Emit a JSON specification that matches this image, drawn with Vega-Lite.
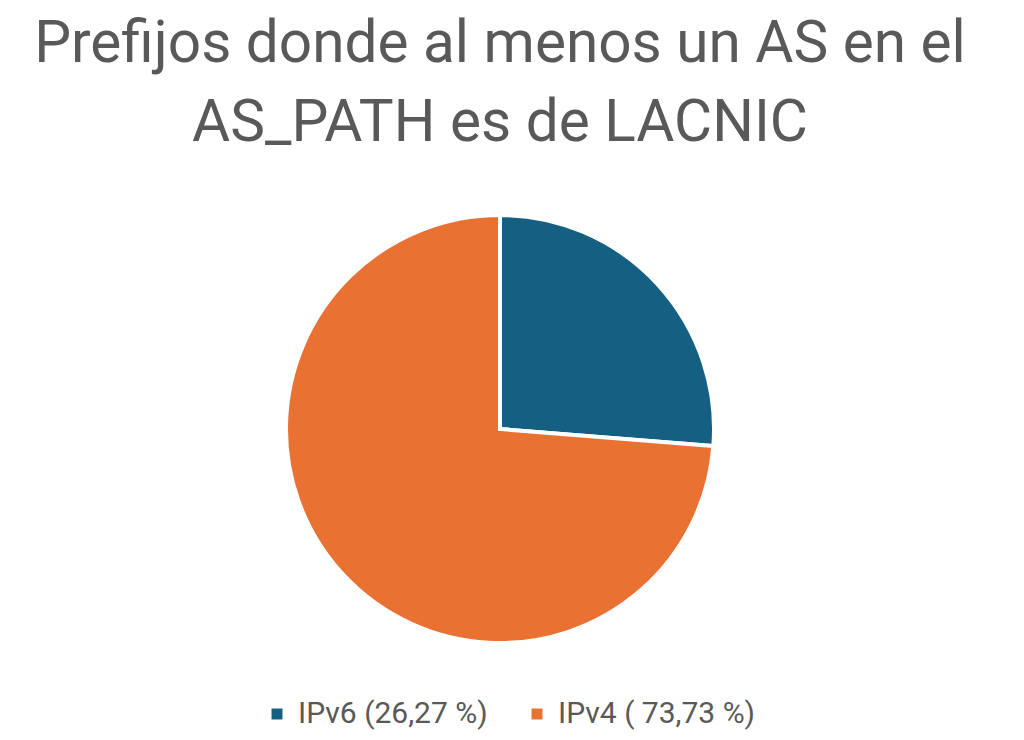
{
  "$schema": "https://vega.github.io/schema/vega-lite/v6.json",
  "width": 476,
  "height": 428,
  "autosize": {"type": "none"},
  "padding": {"left": 262, "top": 215, "right": 286, "bottom": 97},
  "background": "white",
  "title": {
    "text": ["Prefijos donde al menos un AS en el", "AS_PATH es de LACNIC"],
    "font": "Roboto",
    "fontSize": 58.5,
    "fontWeight": "normal",
    "color": "#595959",
    "lineHeight": 79,
    "anchor": "middle",
    "offset": 54
  },
  "data": {
    "values": [
      {"label": "IPv6 (26,27 %)", "value": 26.27, "order": 1},
      {"label": "IPv4 ( 73,73 %)", "value": 73.73, "order": 2}
    ]
  },
  "mark": {"type": "arc", "stroke": "white", "strokeWidth": 4},
  "encoding": {
    "theta": {"field": "value", "type": "quantitative", "stack": true},
    "order": {"field": "order", "type": "quantitative"},
    "color": {
      "field": "label",
      "type": "nominal",
      "sort": ["IPv6 (26,27 %)", "IPv4 ( 73,73 %)"],
      "scale": {"domain": ["IPv6 (26,27 %)", "IPv4 ( 73,73 %)"], "range": ["#156082", "#E97132"]},
      "legend": {
        "title": null,
        "orient": "bottom",
        "direction": "horizontal",
        "symbolType": "square",
        "symbolSize": 120,
        "symbolStrokeWidth": 0,
        "labelFont": "Roboto",
        "labelFontSize": 30,
        "labelOffset": 6,
        "labelColor": "#595959",
        "columnPadding": 34,
        "offset": 56,
        "labelLimit": 400
      }
    }
  }
}
